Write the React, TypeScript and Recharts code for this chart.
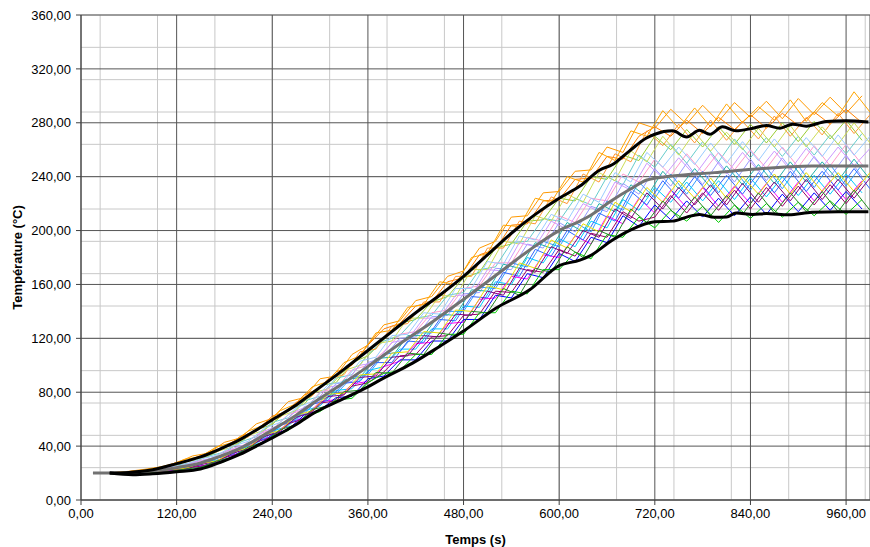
import React from 'react';
import { LineChart, Line, XAxis, YAxis, CartesianGrid, Label } from 'recharts';

// time axes (s) of the coloured thermocouple curves (two sampling grids)
const times = [20, 40, 60, 80, 100, 120, 140, 160, 180, 200, 220, 240, 260, 280, 300, 320, 340, 360, 380, 400,
  420, 440, 460, 480, 500, 520, 540, 560, 580, 600, 620, 640, 660, 680, 700, 720, 740, 760, 780, 800,
  820, 840, 860, 880, 900, 920, 940, 960, 980];
const times2 = [30, 50, 70, 90, 110, 130, 150, 170, 190, 210, 230, 250, 270, 290, 310, 330, 350, 370, 390, 410,
  430, 450, 470, 490, 510, 530, 550, 570, 590, 610, 630, 650, 670, 690, 710, 730, 750, 770, 790, 810,
  830, 850, 870, 890, 910, 930, 950, 970, 990];

// individual curves (°C)
const seriesA = [20, 20.3, 21.3, 22.8, 24.6, 27.5, 32.7, 34.8, 42.8, 46.1, 56.5, 60.6, 73, 76, 90, 92, 108, 115, 130, 133,
  148, 151, 166, 170, 187, 192, 210, 211, 228, 229, 244, 245, 262, 258, 280, 276, 290, 279, 293, 281,
  295, 284, 296, 283, 298, 286, 299, 287, 300];
const seriesB = [20, 20.2, 21.1, 22.1, 23.7, 27.9, 29.9, 35.5, 38.7, 47.2, 51.2, 62.3, 66, 78, 83, 95, 100, 115, 127, 131,
  144, 147, 162, 165, 182, 186, 204, 205, 222, 223, 238, 239, 255, 253, 270, 277, 270, 282, 272, 284,
  275, 286, 276, 287, 278, 288, 279, 290, 280];
const seriesC = [20, 20.1, 20.9, 22.0, 23.9, 25.9, 30.3, 32.3, 39.3, 42.7, 52.1, 56, 67.5, 71, 85, 87, 102, 107, 119, 131,
  134, 147, 151, 165, 169, 187, 190, 207, 208, 224, 222, 240, 238, 256, 252, 270, 260, 275, 262, 277,
  264, 279, 265, 280, 266, 281, 268, 282, 267];
const seriesD = [20, 20.1, 20.7, 21.6, 22.8, 26.0, 27.7, 32.7, 35.4, 43.0, 47.0, 57.6, 61, 73.5, 77, 90.5, 93, 108, 118, 122,
  135, 137, 152, 154, 171, 173, 191, 192, 209, 207, 224, 219, 240, 234, 256, 247, 264, 250, 266, 251,
  268, 254, 269, 255, 270, 256, 271, 257, 272];
const seriesE = [20, 20.0, 20.5, 21.3, 22.9, 24.4, 28.0, 29.9, 36.0, 38.9, 48.3, 52.4, 63.4, 67, 80, 83, 96.5, 100, 110, 123,
  125, 139, 141, 157, 159, 176, 176, 195, 192, 211, 206, 224, 222, 242, 236, 253, 241, 257, 243, 258,
  245, 260, 246, 262, 247, 263, 248, 264, 249];
const seriesF = [20, 20.0, 20.3, 21.0, 22.1, 24.5, 25.8, 30.3, 32.6, 39.6, 43.7, 53.6, 57.7, 69.2, 73.1, 86.3, 88, 102, 106, 120,
  121, 136, 137, 153, 154, 172, 171, 190, 187, 206, 199, 218, 214, 235, 227, 246, 233, 250, 234, 251,
  236, 253, 237, 254, 239, 255, 240, 256, 240];
const seriesG = [20, 19.9, 20.0, 20.6, 22.1, 23.0, 26.1, 27.9, 33.6, 36.6, 45.4, 49.2, 60.1, 63.5, 76.4, 78.5, 91.2, 93, 108, 110,
  124, 124, 140, 140, 158, 157, 176, 173, 192, 188, 206, 199, 222, 215, 236, 224, 242, 227, 244, 228,
  245, 230, 247, 231, 248, 232, 249, 233, 249];
const seriesH = [20, 19.8, 19.8, 20.3, 21.2, 23.2, 24.2, 28.4, 30.9, 37.7, 41.8, 51.1, 54.9, 66, 69.9, 81.3, 82.6, 96, 99, 112,
  112, 127, 127, 144, 143, 162, 160, 180, 176, 194, 188, 207, 202, 223, 215, 232, 221, 236, 222, 237,
  223, 239, 225, 240, 226, 241, 227, 242, 228];
const seriesI = [20, 19.8, 19.6, 20.1, 21.3, 22.1, 24.6, 26.4, 31.8, 35.1, 43.5, 47.3, 57.3, 61, 73, 74.5, 86, 88, 99, 103,
  116, 117, 131, 132, 149, 150, 166, 164, 182, 180, 196, 190, 211, 205, 224, 213, 230, 217, 232, 218,
  233, 220, 235, 221, 236, 222, 237, 223, 237];
const seriesJ = [20, 19.7, 19.4, 19.7, 20.3, 21.9, 22.6, 26.5, 29.1, 35.8, 39.9, 48.5, 52.4, 63, 66.7, 76, 77, 90, 92, 104,
  104, 118, 118, 134, 134, 152, 150, 168, 165, 183, 177, 195, 191, 211, 203, 219, 208, 222, 210, 224,
  211, 225, 212, 227, 214, 228, 215, 229, 216];
const seriesK = [20, 19.7, 19.5, 19.9, 21.0, 21.7, 24.2, 26.0, 31.5, 34.6, 43.0, 46.8, 56.6, 60.3, 72, 73.5, 84.5, 87, 95, 107,
  108, 121, 122, 137, 138, 155, 154, 171, 169, 186, 181, 198, 195, 214, 207, 210, 226, 213, 228, 215,
  230, 216, 232, 218, 233, 219, 234, 220, 235];
const seriesL = [20, 19.6, 19.2, 19.4, 20.0, 21.5, 22.1, 25.7, 28.5, 35.0, 39.3, 47.4, 51.6, 61.4, 65.7, 74, 75.5, 87, 94, 96,
  108, 108, 123, 123, 139, 139, 155, 153, 171, 171, 184, 179, 197, 195, 210, 202, 215, 207, 218, 206,
  219, 209, 220, 210, 221, 211, 222, 212, 223];

const seriesA2 = [20.1, 20.5, 21.5, 23.3, 25.6, 30.2, 32.2, 39.4, 42.7, 51.2, 55.7, 66.3, 71.5, 84, 88, 102, 107, 124, 126, 143,
  145, 162, 160, 180, 183, 204, 203, 224, 221, 240, 236, 258, 252, 274, 270, 289, 276, 291, 277, 294,
  280, 292, 282, 297, 281, 295, 285, 303, 288];
const seriesB2 = [20.0, 20.4, 21.6, 22.3, 25.6, 27.9, 33.0, 35.6, 43.2, 46.9, 57.0, 61.4, 72.6, 77.2, 90, 93, 110, 112, 129, 131,
  147, 147, 166, 166, 187, 187, 207, 205, 225, 220, 242, 236, 257, 251, 274, 263, 279, 265, 282, 267,
  281, 268, 285, 270, 284, 271, 287, 272, 286];
const seriesC2 = [20.0, 20.3, 21.2, 22.6, 24.4, 28.1, 30.2, 36.0, 39.3, 48.1, 51.6, 62.2, 66.4, 79.5, 82.5, 96, 100, 116, 118, 135,
  135, 152, 151, 171, 171, 192, 190, 211, 207, 227, 221, 243, 237, 259, 251, 270, 256, 273, 259, 273,
  260, 276, 262, 278, 262, 277, 264, 280, 265];
const seriesD2 = [20.0, 20.2, 21.0, 21.9, 24.4, 26.1, 30.6, 32.9, 39.9, 43.6, 53.2, 57.6, 68.5, 73, 85.5, 88, 103, 106, 122, 123,
  139, 138, 157, 157, 177, 175, 196, 193, 212, 207, 227, 221, 243, 236, 258, 247, 262, 249, 265, 250,
  266, 252, 268, 254, 269, 255, 271, 256, 270];
const seriesE2 = [20.0, 20.1, 20.8, 21.6, 23.9, 25.3, 29.4, 31.6, 38.3, 41.7, 51.3, 55.1, 66.2, 70.6, 83.6, 86, 100, 102, 117, 119,
  135, 135, 152, 152, 171, 170, 191, 188, 207, 201, 220, 214, 236, 230, 250, 239, 254, 241, 257, 242,
  258, 244, 259, 245, 261, 247, 262, 248, 261];
const seriesF2 = [20.0, 20.0, 20.4, 21.5, 22.6, 25.3, 27.0, 32.0, 34.7, 42.6, 46.6, 56.7, 60.6, 72.6, 76.3, 89, 91, 105, 106, 122,
  122, 138, 137, 156, 155, 175, 172, 191, 187, 206, 199, 220, 214, 234, 225, 244, 231, 246, 232, 248,
  234, 249, 235, 251, 236, 251, 237, 253, 238];
const seriesG2 = [20.0, 19.8, 20.1, 21.2, 22.0, 24.6, 26.0, 31.0, 33.6, 41.6, 45.3, 55.3, 59.2, 71, 74, 86.6, 88, 102, 102, 118,
  117, 134, 133, 151, 150, 169, 166, 186, 181, 200, 193, 213, 207, 229, 219, 237, 224, 240, 226, 241,
  227, 243, 228, 244, 229, 244, 230, 246, 231];
const seriesH2 = [20.0, 19.6, 19.9, 20.5, 22.1, 22.9, 26.4, 28.5, 34.6, 38.3, 47.1, 50.9, 61.3, 65.3, 76.8, 78, 91, 92, 106, 107,
  122, 121, 138, 137, 155, 152, 172, 169, 188, 183, 200, 195, 216, 209, 228, 216, 232, 219, 234, 219,
  235, 221, 236, 222, 238, 223, 238, 224, 239];
const seriesI2 = [20.0, 19.8, 20.2, 20.7, 22.5, 23.4, 27.1, 29.0, 35.5, 38.8, 48.2, 51.8, 62.8, 66.3, 78.5, 79.3, 92.8, 93.6, 109, 110,
  125, 124, 141, 140, 159, 156, 176, 172, 193, 187, 205, 199, 221, 214, 232, 221, 237, 224, 239, 224,
  240, 227, 242, 227, 243, 229, 243, 229, 243];
const seriesJ2 = [19.8, 19.4, 19.5, 20.3, 20.9, 22.9, 24.2, 28.9, 31.8, 39.3, 43, 52.2, 56, 67.2, 69.8, 80.4, 81.5, 94.7, 94, 109,
  108, 124, 122, 140, 139, 157, 152, 172, 169, 188, 180, 200, 195, 216, 206, 222, 209, 225, 211, 226,
  212, 228, 213, 228, 214, 229, 214, 230, 215];

const set1 = [seriesA, seriesB, seriesC, seriesD, seriesE, seriesF, seriesG, seriesH, seriesI, seriesJ, seriesK, seriesL];
const set1Colors = ['#ff9900', '#ff8000', '#9acd32', '#66cccc', '#ff99cc', '#9999ff', '#3399ff', '#00ccff',
  '#ff00ff', '#0000ff', '#990066', '#00cc00'];
const set2 = [seriesA2, seriesB2, seriesC2, seriesD2, seriesE2, seriesF2, seriesG2, seriesH2, seriesI2, seriesJ2];
const set2Colors = ['#ffa500', '#ff9933', '#ccdd55', '#99ccff', '#cc99ff', '#20b2aa', '#3366ff', '#800080',
  '#eedd00', '#228b22'];

// envelope and mean curves
const upperT = [36, 60, 90, 120, 150, 175, 200, 220, 240, 270, 295, 330, 360, 390, 420, 450, 480, 510, 540, 570, 600,
  626, 651, 667, 688, 709, 720, 742, 760, 776, 789, 805, 822, 843, 860, 877, 893, 910, 935, 960, 988];
const upperV = [20, 20.5, 22.5, 27, 32, 38, 45, 52, 59.5, 70.5, 81.5, 97, 111, 125, 139, 152, 166, 182, 198, 212, 224,
  233, 245, 249, 259, 268.5, 271.5, 274, 269.5, 274.5, 271.5, 277, 274, 276, 278, 276, 279, 277.5, 281, 281.5, 280.5];
const lowerT = [36, 65, 90, 120, 150, 175, 200, 220, 240, 270, 295, 325, 360, 375, 416, 450, 479, 521, 563, 600, 626,
  638, 667, 688, 720, 742, 760, 776, 795, 810, 822, 843, 860, 888, 917, 950, 988];
const lowerV = [20, 18.8, 19.5, 21, 23, 28, 34, 40, 46, 56, 65.5, 74, 84, 89, 101.6, 114, 125, 142.5, 156, 174, 178,
  181, 193, 200, 206.6, 207, 210, 212, 209.8, 210, 213, 212, 212.6, 211.7, 213.5, 214, 214];
const meanT = [15, 60, 90, 120, 150, 175, 200, 240, 270, 295, 330, 360, 400, 438, 479, 521, 563, 600, 626, 638,
  667, 690, 710, 742, 795, 843, 917, 988];
const meanV = [20, 20.3, 21.5, 24, 27.5, 32.5, 38.5, 52, 63, 73.5, 87, 99, 116, 131, 148.5, 167, 185.6, 200, 207, 210.8,
  222.7, 231, 237.5, 240.5, 243, 245.5, 248, 248];

const xTicks = [0, 120, 240, 360, 480, 600, 720, 840, 960];
const yTicks = [0, 40, 80, 120, 160, 200, 240, 280, 320, 360];
const xMinor = Array.from({ length: 42 }, (_, i) => i * 24);
const yMinor = Array.from({ length: 46 }, (_, i) => i * 8);

const rows1 = times.map((t, i) => {
  const row: Record<string, number> = { t };
  set1.forEach((s, k) => { row['s' + k] = s[i]; });
  return row;
});
const rows2 = times2.map((t, i) => {
  const row: Record<string, number> = { t };
  set2.forEach((s, k) => { row['r' + k] = s[i]; });
  return row;
});
const upper = upperT.map((t, i) => ({ t, v: upperV[i] }));
const lower = lowerT.map((t, i) => ({ t, v: lowerV[i] }));
const mean = meanT.map((t, i) => ({ t, v: meanV[i] }));

const fmt = (v: number) => v.toFixed(2).replace('.', ',');
const font = '"Liberation Sans", Arial, sans-serif';
const tickStyle = { fontSize: 13, fill: '#000', fontFamily: font };

export default function App() {
  return (
    <div style={{ position: 'absolute', left: 0, top: 0, background: '#fff' }}>
      <LineChart width={870} height={547} data={rows1} margin={{ top: 15, right: 0, bottom: 0, left: 0 }}>
        <CartesianGrid stroke="#c8c8c8" horizontalValues={yMinor} verticalValues={xMinor} />
        <CartesianGrid stroke="#555" />
        <XAxis dataKey="t" type="number" domain={[0, 990]} ticks={xTicks} tickFormatter={fmt}
          allowDataOverflow height={47} tickSize={5} tickMargin={4} tick={tickStyle}
          stroke="#404040">
          <Label value="Temps (s)" position="insideBottom" offset={3}
            style={{ fontSize: 13, fontWeight: 'bold', fill: '#000', fontFamily: font }} />
        </XAxis>
        <YAxis type="number" domain={[0, 360]} ticks={yTicks} tickFormatter={fmt} width={81}
          tickSize={5} tickMargin={5} tick={tickStyle} stroke="#404040">
          <Label value="Température (°C)" angle={-90} position="insideLeft" offset={17}
            style={{ fontSize: 13, fontWeight: 'bold', fill: '#000', fontFamily: font, textAnchor: 'middle' }} />
        </YAxis>
        {set1.map((_, k) => (
          <Line key={'s' + k} dataKey={'s' + k} stroke={set1Colors[k]} strokeWidth={1} dot={false}
            type="linear" isAnimationActive={false} />
        ))}
        {set2.map((_, k) => (
          <Line key={'r' + k} data={rows2} dataKey={'r' + k} stroke={set2Colors[k]} strokeWidth={1} dot={false}
            type="linear" isAnimationActive={false} />
        ))}
        <Line data={mean} dataKey="v" stroke="#727272" strokeWidth={3} dot={false} type="monotone"
          isAnimationActive={false} />
        <Line data={upper} dataKey="v" stroke="#000" strokeWidth={3} dot={false} type="monotone"
          isAnimationActive={false} />
        <Line data={lower} dataKey="v" stroke="#000" strokeWidth={3} dot={false} type="monotone"
          isAnimationActive={false} />
      </LineChart>
    </div>
  );
}
